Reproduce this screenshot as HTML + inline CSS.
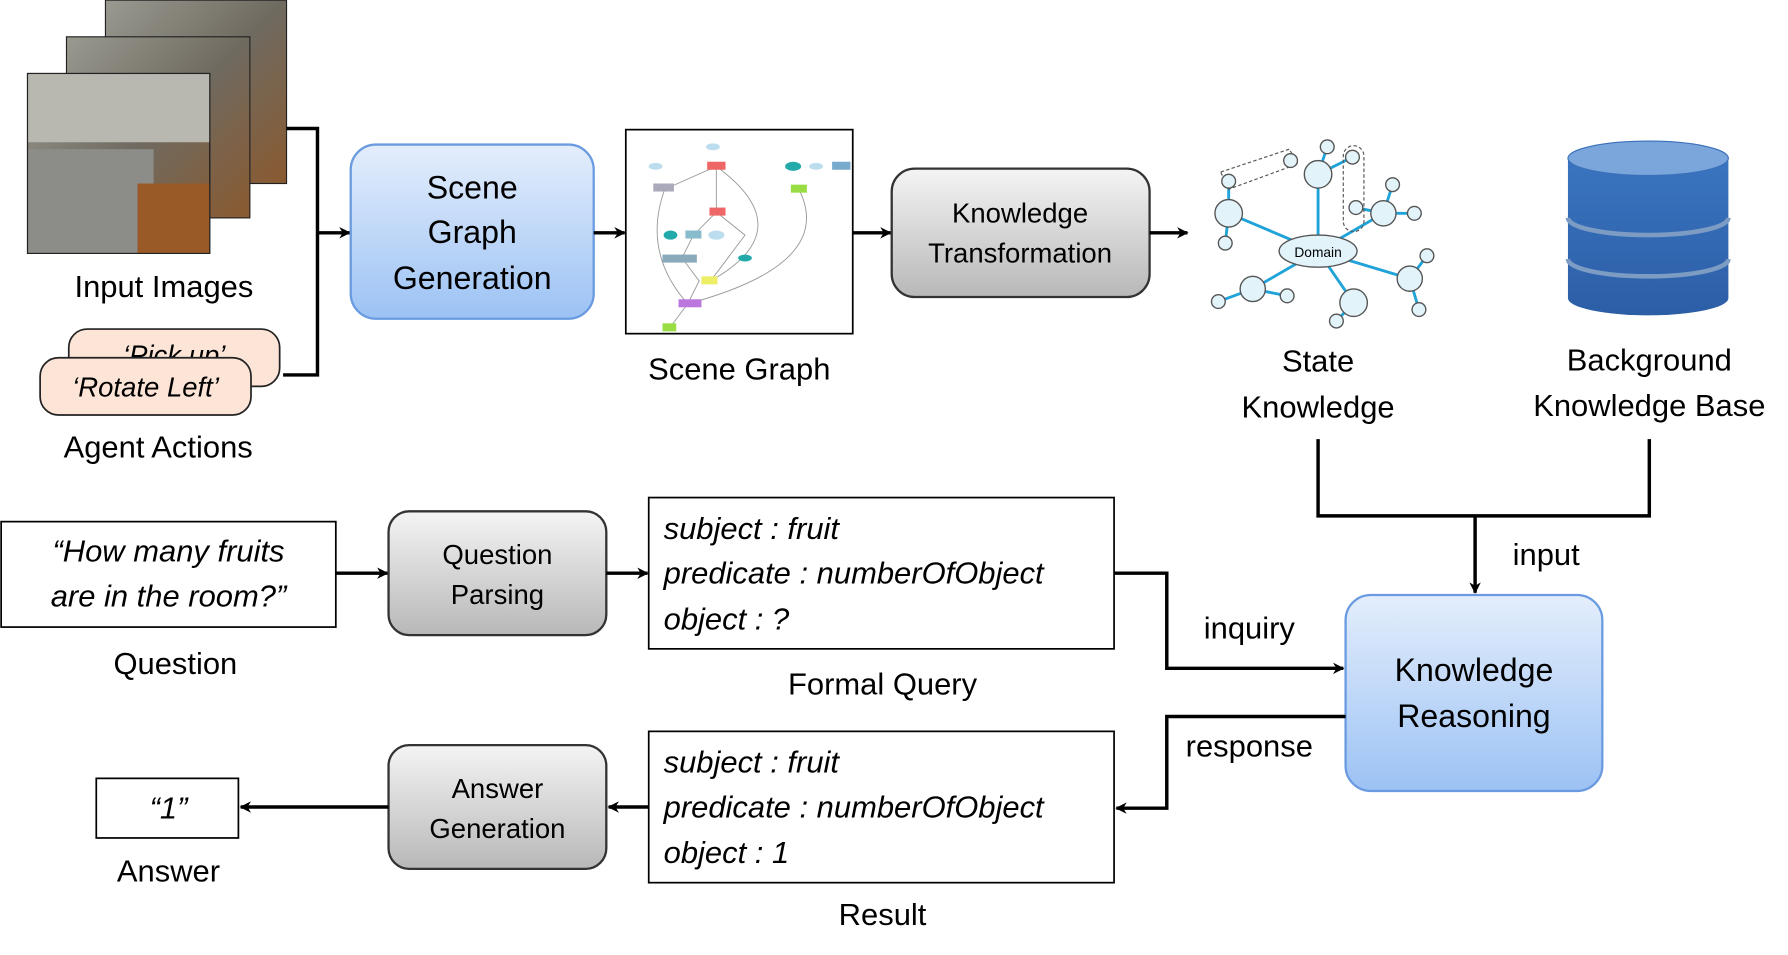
<!DOCTYPE html>
<html><head><meta charset="utf-8"><style>
html,body{margin:0;padding:0;background:#fff;}
svg{display:block;}
text{font-family:"Liberation Sans",sans-serif;fill:#000;}
</style></head><body>
<svg width="1788" height="955" viewBox="0 0 1560 833" xmlns="http://www.w3.org/2000/svg">
<defs>
<linearGradient id="blue" x1="0" y1="0" x2="0" y2="1"><stop offset="0" stop-color="#e4eefc"/><stop offset="1" stop-color="#9cc2f4"/></linearGradient>
<linearGradient id="gray" x1="0" y1="0" x2="0" y2="1"><stop offset="0" stop-color="#f4f4f4"/><stop offset="1" stop-color="#b8b8b8"/></linearGradient>
<linearGradient id="room" x1="0" y1="0" x2="1" y2="1"><stop offset="0" stop-color="#9a9a90"/><stop offset="0.5" stop-color="#6f6a60"/><stop offset="1" stop-color="#8a5a30"/></linearGradient>
<linearGradient id="db" x1="0" y1="0" x2="0" y2="1"><stop offset="0" stop-color="#3a74c0"/><stop offset="1" stop-color="#2c5ea6"/></linearGradient>
<marker id="ar" markerWidth="10" markerHeight="10" refX="9" refY="5" orient="auto" markerUnits="userSpaceOnUse"><path d="M0,0 L10,5 L0,10 L3,5 z" fill="#000"/></marker>
</defs>

<!-- images -->
<rect x="92" y="0" width="158" height="160" fill="url(#room)" stroke="#222"/>
<rect x="58" y="32" width="160" height="158" fill="url(#room)" stroke="#222"/>
<rect x="24" y="64" width="159" height="157" fill="url(#room)" stroke="#222"/>
<rect x="24" y="64" width="159" height="60" fill="#b8b8b0"/>
<rect x="24" y="130" width="110" height="91" fill="#8c8c88"/>
<rect x="120" y="160" width="63" height="61" fill="#9a5a28"/>
<rect x="24" y="64" width="159" height="157" fill="none" stroke="#222"/>
<text x="143" y="259" font-size="27" text-anchor="middle">Input Images</text>

<rect x="60" y="287" width="184" height="50" rx="16" fill="#fce4d6" stroke="#222" stroke-width="1.5"/>
<text x="152" y="318" font-size="24" font-style="italic" text-anchor="middle">‘Pick up’</text>
<rect x="35" y="312" width="184" height="50" rx="16" fill="#fce4d6" stroke="#222" stroke-width="1.5"/>
<text x="127" y="346" font-size="24" font-style="italic" text-anchor="middle">‘Rotate Left’</text>
<text x="138" y="399" font-size="27" text-anchor="middle">Agent Actions</text>

<polyline points="250,112 277,112 277,327 247,327" fill="none" stroke="#000" stroke-width="3"/>
<line x1="277" y1="203" x2="305" y2="203" stroke="#000" stroke-width="3" marker-end="url(#ar)"/>

<rect x="306" y="126" width="212" height="152" rx="22" fill="url(#blue)" stroke="#6a9be0" stroke-width="2"/>
<text x="412" y="173" font-size="28" text-anchor="middle">Scene</text>
<text x="412" y="212" font-size="28" text-anchor="middle">Graph</text>
<text x="412" y="252" font-size="28" text-anchor="middle">Generation</text>
<line x1="518" y1="203" x2="545" y2="203" stroke="#000" stroke-width="3" marker-end="url(#ar)"/>

<!-- scene graph -->
<rect x="546" y="113" width="198" height="178" fill="#fff" stroke="#000" stroke-width="1.5"/>
<g stroke="#999" stroke-width="0.8" fill="none">
<path d="M580,165 L625,145 L625,185 L605,205 L595,225 L610,245 L600,265 L585,285"/>
<path d="M580,165 Q560,220 600,265"/><path d="M625,145 Q700,200 620,245"/>
<path d="M697,165 Q730,230 600,265"/><path d="M625,185 L650,205 L620,245"/>
</g>
<g>
<ellipse cx="572" cy="145" rx="6" ry="3" fill="#bde"/><ellipse cx="622" cy="128" rx="6" ry="3" fill="#bde"/>
<rect x="570" y="160" width="18" height="7" fill="#aab"/><rect x="617" y="141" width="16" height="7" fill="#e66"/>
<ellipse cx="692" cy="145" rx="7" ry="4" fill="#2aa"/><rect x="690" y="161" width="14" height="7" fill="#9d4"/>
<ellipse cx="712" cy="145" rx="6" ry="3" fill="#bde"/><rect x="726" y="141" width="16" height="7" fill="#7ac"/>
<rect x="619" y="181" width="14" height="7" fill="#e66"/><ellipse cx="585" cy="205" rx="6" ry="4" fill="#2aa"/>
<rect x="598" y="201" width="14" height="7" fill="#8bc"/><ellipse cx="625" cy="205" rx="7" ry="4" fill="#bde"/>
<rect x="578" y="222" width="30" height="7" fill="#8ab"/><ellipse cx="650" cy="225" rx="6" ry="3" fill="#2aa"/>
<rect x="612" y="241" width="14" height="7" fill="#ee6"/><rect x="592" y="261" width="20" height="7" fill="#b7d"/>
<rect x="578" y="282" width="12" height="7" fill="#9d4"/>
</g>
<text x="645" y="331" font-size="27" text-anchor="middle">Scene Graph</text>
<line x1="744" y1="203" x2="777" y2="203" stroke="#000" stroke-width="3" marker-end="url(#ar)"/>

<rect x="778" y="147" width="225" height="112" rx="20" fill="url(#gray)" stroke="#333" stroke-width="2"/>
<text x="890" y="194" font-size="24" text-anchor="middle">Knowledge</text>
<text x="890" y="229" font-size="24" text-anchor="middle">Transformation</text>
<line x1="1003" y1="203" x2="1036" y2="203" stroke="#000" stroke-width="3" marker-end="url(#ar)"/>

<!-- state knowledge graph -->
<g stroke="#1fa3d8" stroke-width="2.5" fill="none">
<line x1="1150" y1="219" x2="1150" y2="152"/><line x1="1150" y1="219" x2="1072" y2="186"/>
<line x1="1150" y1="219" x2="1207" y2="186"/><line x1="1150" y1="219" x2="1230" y2="243"/>
<line x1="1150" y1="219" x2="1181" y2="264"/><line x1="1150" y1="219" x2="1093" y2="252"/>
<line x1="1150" y1="152" x2="1158" y2="128"/><line x1="1150" y1="152" x2="1180" y2="137"/>
<line x1="1072" y1="186" x2="1072" y2="158"/><line x1="1072" y1="186" x2="1069" y2="212"/>
<line x1="1207" y1="186" x2="1215" y2="161"/><line x1="1207" y1="186" x2="1234" y2="186"/><line x1="1207" y1="186" x2="1183" y2="181"/>
<line x1="1230" y1="243" x2="1245" y2="223"/><line x1="1230" y1="243" x2="1238" y2="270"/>
<line x1="1181" y1="264" x2="1166" y2="280"/><line x1="1093" y1="252" x2="1063" y2="263"/><line x1="1093" y1="252" x2="1123" y2="258"/>
</g>
<g fill="none" stroke="#555" stroke-dasharray="3,2" stroke-width="1">
<path d="M1065,150 L1125,130 L1132,143 L1072,165 z"/><rect x="1172" y="127" width="18" height="75" rx="9"/>
</g>
<g fill="#e2f3fa" stroke="#555" stroke-width="1.2">
<circle cx="1150" cy="152" r="12"/><circle cx="1072" cy="186" r="12"/><circle cx="1207" cy="186" r="11"/>
<circle cx="1230" cy="243" r="11"/><circle cx="1181" cy="264" r="12"/><circle cx="1093" cy="252" r="11"/>
<circle cx="1158" cy="128" r="6"/><circle cx="1126" cy="140" r="6"/><circle cx="1180" cy="137" r="6"/>
<circle cx="1072" cy="158" r="6"/><circle cx="1069" cy="212" r="6"/><circle cx="1215" cy="161" r="6"/>
<circle cx="1234" cy="186" r="6"/><circle cx="1183" cy="181" r="6"/><circle cx="1245" cy="223" r="6"/>
<circle cx="1238" cy="270" r="6"/><circle cx="1166" cy="280" r="6"/><circle cx="1063" cy="263" r="6"/><circle cx="1123" cy="258" r="6"/>
<ellipse cx="1150" cy="219" rx="34" ry="14"/>
</g>
<text x="1150" y="224" font-size="12" text-anchor="middle">Domain</text>
<text x="1150" y="324" font-size="27" text-anchor="middle">State</text>
<text x="1150" y="364" font-size="27" text-anchor="middle">Knowledge</text>

<!-- database -->
<path d="M1368,138 L1368,260 A70,15 0 0 0 1508,260 L1508,138 z" fill="url(#db)"/>
<ellipse cx="1438" cy="138" rx="70" ry="15" fill="#7aa6dc" stroke="#3a70b8"/>
<path d="M1368,190 A70,15 0 0 0 1508,190" fill="none" stroke="#7c9cc4" stroke-width="4"/>
<path d="M1368,226 A70,15 0 0 0 1508,226" fill="none" stroke="#7c9cc4" stroke-width="4"/>
<text x="1439" y="323" font-size="27" text-anchor="middle">Background</text>
<text x="1439" y="363" font-size="27" text-anchor="middle">Knowledge Base</text>

<polyline points="1150,383 1150,450 1439,450 1439,383" fill="none" stroke="#000" stroke-width="3"/>
<line x1="1287" y1="450" x2="1287" y2="517" stroke="#000" stroke-width="3" marker-end="url(#ar)"/>
<text x="1349" y="493" font-size="27" text-anchor="middle">input</text>

<!-- question -->
<rect x="1" y="455" width="292" height="92" fill="#fff" stroke="#000" stroke-width="1.5"/>
<text x="147" y="490" font-size="27" font-style="italic" text-anchor="middle">“How many fruits</text>
<text x="147" y="529" font-size="27" font-style="italic" text-anchor="middle">are in the room?”</text>
<text x="153" y="588" font-size="27" text-anchor="middle">Question</text>
<line x1="293" y1="500" x2="338" y2="500" stroke="#000" stroke-width="3" marker-end="url(#ar)"/>

<rect x="339" y="446" width="190" height="108" rx="18" fill="url(#gray)" stroke="#333" stroke-width="2"/>
<text x="434" y="492" font-size="24" text-anchor="middle">Question</text>
<text x="434" y="527" font-size="24" text-anchor="middle">Parsing</text>
<line x1="529" y1="500" x2="565" y2="500" stroke="#000" stroke-width="3" marker-end="url(#ar)"/>

<rect x="566" y="434" width="406" height="132" fill="#fff" stroke="#000" stroke-width="1.5"/>
<text x="579" y="470" font-size="27" font-style="italic">subject : fruit</text>
<text x="579" y="509" font-size="27" font-style="italic">predicate : numberOfObject</text>
<text x="579" y="549" font-size="27" font-style="italic">object : ?</text>
<text x="770" y="606" font-size="27" text-anchor="middle">Formal Query</text>

<polyline points="972,500 1018,500 1018,583 1172,583" fill="none" stroke="#000" stroke-width="3" marker-end="url(#ar)"/>
<text x="1090" y="557" font-size="27" text-anchor="middle">inquiry</text>

<rect x="1174" y="519" width="224" height="171" rx="22" fill="url(#blue)" stroke="#6a9be0" stroke-width="2"/>
<text x="1286" y="594" font-size="28" text-anchor="middle">Knowledge</text>
<text x="1286" y="634" font-size="28" text-anchor="middle">Reasoning</text>

<polyline points="1174,625 1018,625 1018,705 974,705" fill="none" stroke="#000" stroke-width="3" marker-end="url(#ar)"/>
<text x="1090" y="660" font-size="27" text-anchor="middle">response</text>

<rect x="566" y="638" width="406" height="132" fill="#fff" stroke="#000" stroke-width="1.5"/>
<text x="579" y="674" font-size="27" font-style="italic">subject : fruit</text>
<text x="579" y="713" font-size="27" font-style="italic">predicate : numberOfObject</text>
<text x="579" y="753" font-size="27" font-style="italic">object : 1</text>
<text x="770" y="807" font-size="27" text-anchor="middle">Result</text>

<line x1="566" y1="704" x2="531" y2="704" stroke="#000" stroke-width="3" marker-end="url(#ar)"/>
<rect x="339" y="650" width="190" height="108" rx="18" fill="url(#gray)" stroke="#333" stroke-width="2"/>
<text x="434" y="696" font-size="24" text-anchor="middle">Answer</text>
<text x="434" y="731" font-size="24" text-anchor="middle">Generation</text>
<line x1="339" y1="704" x2="210" y2="704" stroke="#000" stroke-width="3" marker-end="url(#ar)"/>

<rect x="84" y="679" width="124" height="52" fill="#fff" stroke="#000" stroke-width="1.5"/>
<text x="147" y="714" font-size="27" font-style="italic" text-anchor="middle">“1”</text>
<text x="147" y="769" font-size="27" text-anchor="middle">Answer</text>
</svg>
</body></html>
